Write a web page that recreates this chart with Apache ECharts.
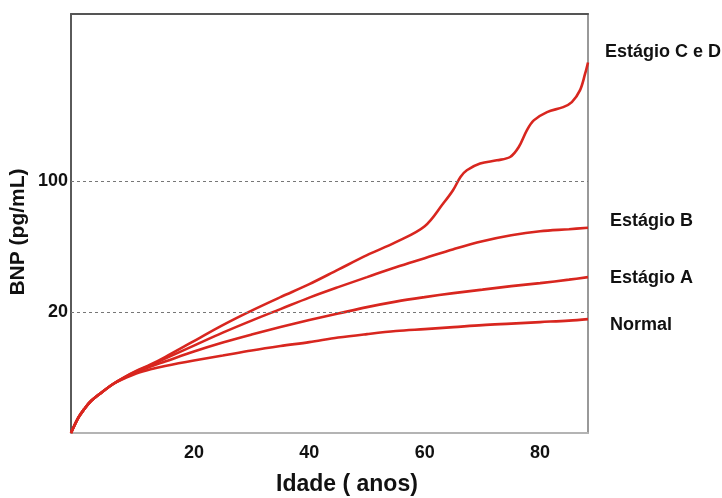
<!DOCTYPE html>
<html>
<head>
<meta charset="utf-8">
<script src="https://cdn.jsdelivr.net/npm/echarts@6/dist/echarts.min.js"></script>
<style>
  html, body { margin: 0; padding: 0; background: #fff; }
  #main { width: 722px; height: 498px; }
</style>
</head>
<body>
<div id="main"></div>
<script>
// idade (anos) lida no eixo x
const ages = [-1.3, 0, 1, 2, 4, 6, 8, 10, 12.5, 15, 20, 25, 30, 35, 40, 45, 50, 55, 60, 65, 70, 75, 80, 85, 88.3];
const agesCD = [-1.3, 0, 1, 2, 4, 6, 8, 10, 12.5, 15, 20, 25, 30, 35, 40, 45, 50, 55, 60,
  63.2, 64.9, 66.2, 67.3, 69.6, 72.5, 74.8, 76.3, 77.7, 78.9, 81.2, 84, 85.5, 86.9, 87.8, 88.3];

// BNP (pg/mL), escala log
const normal = [4.52, 5.47, 6.07, 6.62, 7.44, 8.26, 8.85, 9.4, 9.9, 10.3, 11.02, 11.72, 12.47, 13.17,
  13.83, 14.62, 15.26, 15.84, 16.23, 16.63, 17.05, 17.36, 17.69, 18.02, 18.35];
const stageA = [4.52, 5.47, 6.07, 6.62, 7.44, 8.26, 8.94, 9.57, 10.24, 10.89, 12.31, 13.75, 15.17, 16.63,
  18.13, 19.64, 21.27, 22.76, 24.05, 25.26, 26.37, 27.53, 28.57, 29.82, 30.75];
const stageB = [4.52, 5.47, 6.07, 6.62, 7.44, 8.26, 8.98, 9.65, 10.4, 11.29, 13.25, 15.54, 18.02, 20.75,
  23.9, 27.19, 30.75, 34.76, 38.83, 43.37, 47.84, 51.5, 54.1, 55.46, 56.47];
const stageCD = [4.52, 5.47, 6.07, 6.62, 7.44, 8.26, 9.0, 9.7, 10.5, 11.51, 14.01, 17.05, 20.38, 24.05,
  28.21, 33.72, 40.29, 47.26, 57.53, 76.04, 89.54, 105.4, 114.5, 124.3, 129.4, 134.8, 152.4, 187.1,
  211.6, 234.3, 249.1, 265.0, 305.9, 375.5, 431.4];

const xTicks = [20, 40, 60, 80];
const yTicks = [20, 100];

const names = ['Normal', 'Estágio A', 'Estágio B', 'Estágio C e D'];
const labelOffsets = [[22, 6], [22, 1], [22, -7], [17, -10]];

const red = '#d8261f';
const font = 'Arial, "Liberation Sans", sans-serif';

function pairs(xs, ys) {
  return xs.map(function (x, i) { return [x, ys[i]]; });
}

const seriesData = [pairs(ages, normal), pairs(ages, stageA), pairs(ages, stageB), pairs(agesCD, stageCD)];

const series = seriesData.map(function (d, i) {
  return {
    name: names[i],
    type: 'line',
    data: d,
    smooth: 0.35,
    showSymbol: false,
    clip: false,
    lineStyle: { color: red, width: 2.6 },
    endLabel: {
      show: true,
      formatter: names[i],
      distance: 0,
      offset: labelOffsets[i],
      fontFamily: font,
      fontWeight: 'bold',
      fontSize: 18,
      color: '#111'
    }
  };
});

// linhas tracejadas de referência (20 e 100)
series.push({
  type: 'line',
  data: [],
  markLine: {
    silent: true,
    symbol: 'none',
    lineStyle: { color: '#777', type: [3, 3], width: 1 },
    label: {
      position: 'start',
      distance: 3,
      formatter: '{c}',
      fontFamily: font,
      fontWeight: 'bold',
      fontSize: 18,
      color: '#111'
    },
    data: yTicks.map(function (v) { return { yAxis: v }; })
  }
});

const chart = echarts.init(document.getElementById('main'));
chart.setOption({
  animation: false,
  backgroundColor: '#fff',
  grid: { left: 70, right: 134, top: 14, bottom: 65 },
  xAxis: [{
    type: 'value',
    min: -1.3,
    max: 88.3,
    axisLine: { onZero: false, lineStyle: { color: '#b4b4b4', width: 2 } },
    axisTick: { show: false },
    splitLine: { show: false },
    axisLabel: {
      customValues: xTicks,
      margin: 11,
      fontFamily: font,
      fontWeight: 'bold',
      fontSize: 18,
      color: '#111'
    }
  }, {
    type: 'value',
    position: 'top',
    min: -1.3,
    max: 88.3,
    axisLine: { show: true, onZero: false, lineStyle: { color: '#555', width: 2 } },
    axisTick: { show: false },
    axisLabel: { show: false },
    splitLine: { show: false }
  }],
  yAxis: [{
    type: 'log',
    logBase: 10,
    min: 4.52,
    max: 783,
    axisLine: { show: true, onZero: false, lineStyle: { color: '#5a5a5a', width: 2 } },
    axisTick: { show: false },
    axisLabel: { show: false },
    splitLine: { show: false },
    name: 'BNP (pg/mL)',
    nameLocation: 'middle',
    nameRotate: 90,
    nameGap: 42,
    nameTextStyle: {
      fontFamily: font,
      fontWeight: 'bold',
      fontSize: 21,
      color: '#111',
      padding: [0, 17, 0, 0]
    }
  }, {
    type: 'value',
    position: 'right',
    axisLine: { show: true, onZero: false, lineStyle: { color: '#999', width: 2 } },
    axisTick: { show: false },
    axisLabel: { show: false },
    splitLine: { show: false }
  }],
  graphic: [{
    type: 'text',
    left: 276,
    top: 473,
    style: {
      text: 'Idade ( anos)',
      font: 'bold 23px ' + font,
      fill: '#111'
    }
  }],
  series: series
});
</script>
</body>
</html>
